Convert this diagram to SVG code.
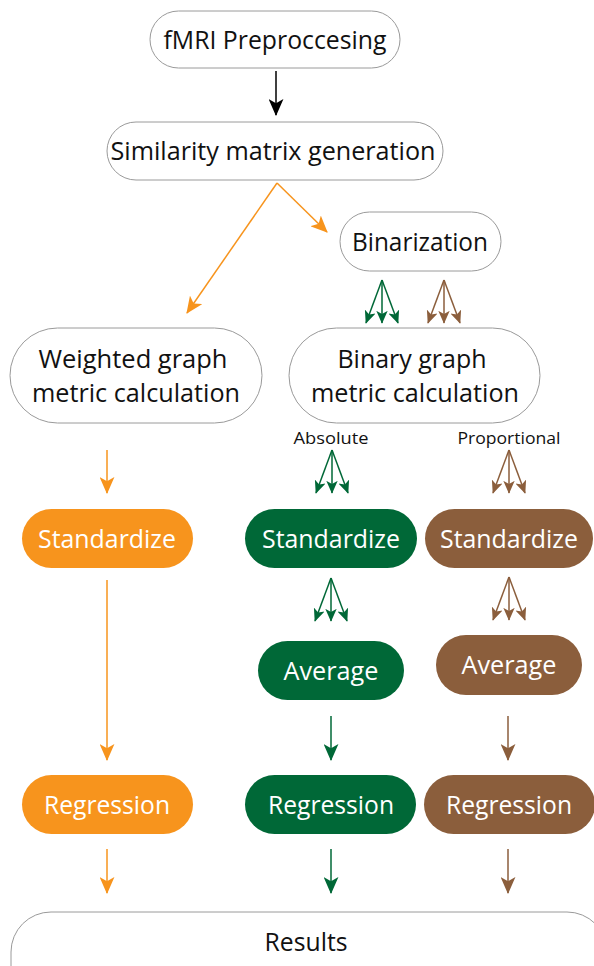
<svg xmlns="http://www.w3.org/2000/svg" xmlns:xlink="http://www.w3.org/1999/xlink" width="594" height="966" viewBox="0 0 594 966">
<style>
.wn{fill:#fff;stroke:#9a9a9a;stroke-width:1}
.t{font-family:"Open Sans","Liberation Sans",sans-serif;font-size:26px;text-anchor:middle;fill:#111}
.tw{font-family:"Open Sans","Liberation Sans",sans-serif;font-size:26px;text-anchor:middle;fill:#fff}
.ts{font-family:"Open Sans","Liberation Sans",sans-serif;font-size:17px;text-anchor:middle;fill:#111}
.or{fill:#F7941D}
.gr{fill:#006837}
.br{fill:#8B5E3C}
.lk{stroke:#000;stroke-width:1.5;fill:none}
.lo{stroke:#F7941D;stroke-width:1.5;fill:none}
.lg{stroke:#006837;stroke-width:1.5;fill:none}
.lb{stroke:#8B5E3C;stroke-width:1.5;fill:none}
</style>
<defs>
<marker id="hk" markerUnits="userSpaceOnUse" viewBox="0 0 16 14" refX="15" refY="7" markerWidth="17" markerHeight="15" orient="auto"><path d="M0,0 L16,7 L0,14 L4,7 z" fill="#000"/></marker>
<marker id="ho" markerUnits="userSpaceOnUse" viewBox="0 0 16 14" refX="15" refY="7" markerWidth="17" markerHeight="15" orient="auto"><path d="M0,0 L16,7 L0,14 L4,7 z" fill="#F7941D"/></marker>
<marker id="hg" markerUnits="userSpaceOnUse" viewBox="0 0 16 14" refX="15" refY="7" markerWidth="17" markerHeight="15" orient="auto"><path d="M0,0 L16,7 L0,14 L4,7 z" fill="#006837"/></marker>
<marker id="hb" markerUnits="userSpaceOnUse" viewBox="0 0 16 14" refX="15" refY="7" markerWidth="17" markerHeight="15" orient="auto"><path d="M0,0 L16,7 L0,14 L4,7 z" fill="#8B5E3C"/></marker>
<marker id="sg" markerUnits="userSpaceOnUse" viewBox="0 0 16 14" refX="15" refY="7" markerWidth="13" markerHeight="12" orient="auto"><path d="M0,0 L16,7 L0,14 L4,7 z" fill="#006837"/></marker>
<marker id="sb" markerUnits="userSpaceOnUse" viewBox="0 0 16 14" refX="15" refY="7" markerWidth="13" markerHeight="12" orient="auto"><path d="M0,0 L16,7 L0,14 L4,7 z" fill="#8B5E3C"/></marker>
<g id="trig">
<line x1="0" y1="0" x2="-16" y2="43" class="lg" marker-end="url(#sg)"/>
<line x1="0" y1="0" x2="0" y2="43" class="lg" marker-end="url(#sg)"/>
<line x1="0" y1="0" x2="16" y2="43" class="lg" marker-end="url(#sg)"/>
</g>
<g id="trib">
<line x1="0" y1="0" x2="-16" y2="43" class="lb" marker-end="url(#sb)"/>
<line x1="0" y1="0" x2="0" y2="43" class="lb" marker-end="url(#sb)"/>
<line x1="0" y1="0" x2="16" y2="43" class="lb" marker-end="url(#sb)"/>
</g>
</defs>
<rect width="594" height="966" fill="#fff"/>

<g id="connectors">
<line x1="276" y1="71" x2="276" y2="115" class="lk" marker-end="url(#hk)"/>
<line x1="277" y1="183" x2="187" y2="313" class="lo" marker-end="url(#ho)"/>
<line x1="277" y1="183" x2="327" y2="232" class="lo" marker-end="url(#ho)"/>
<use xlink:href="#trig" x="382" y="280"/>
<use xlink:href="#trib" x="444" y="280"/>
<use xlink:href="#trig" x="332" y="450"/>
<use xlink:href="#trib" x="509" y="450"/>
<line x1="107" y1="450" x2="107" y2="493" class="lo" marker-end="url(#ho)"/>
<use xlink:href="#trig" x="331" y="578"/>
<use xlink:href="#trib" x="509" y="577"/>
<line x1="107" y1="580" x2="107" y2="760" class="lo" marker-end="url(#ho)"/>
<line x1="331" y1="716" x2="331" y2="760" class="lg" marker-end="url(#hg)"/>
<line x1="508" y1="716" x2="508" y2="760" class="lb" marker-end="url(#hb)"/>
<line x1="107" y1="849" x2="107" y2="893" class="lo" marker-end="url(#ho)"/>
<line x1="331" y1="849" x2="331" y2="893" class="lg" marker-end="url(#hg)"/>
<line x1="508" y1="849" x2="508" y2="893" class="lb" marker-end="url(#hb)"/>
</g>

<g id="fmri"><rect class="wn" x="150" y="11" width="250" height="57" rx="28.5"/><text class="t" x="275" y="49" textLength="223" lengthAdjust="spacingAndGlyphs">fMRI Preproccesing</text></g>
<g id="similarity"><rect class="wn" x="107" y="122" width="336" height="58" rx="29"/><text class="t" x="273" y="160" textLength="325" lengthAdjust="spacingAndGlyphs">Similarity matrix generation</text></g>
<g id="binarization"><rect class="wn" x="340" y="212" width="161" height="59" rx="29.5"/><text class="t" x="420" y="251" textLength="136" lengthAdjust="spacingAndGlyphs">Binarization</text></g>
<g id="weighted"><rect class="wn" x="10" y="328" width="252" height="95" rx="47.5"/><text class="t" x="133" y="368" textLength="189" lengthAdjust="spacingAndGlyphs">Weighted graph</text><text class="t" x="136" y="402" textLength="208" lengthAdjust="spacingAndGlyphs">metric calculation</text></g>
<g id="binary"><rect class="wn" x="289" y="328" width="251" height="95" rx="47.5"/><text class="t" x="412" y="368" textLength="149" lengthAdjust="spacingAndGlyphs">Binary graph</text><text class="t" x="415" y="402" textLength="208" lengthAdjust="spacingAndGlyphs">metric calculation</text></g>
<g id="absolute"><text class="ts" x="331" y="444" textLength="75" lengthAdjust="spacingAndGlyphs">Absolute</text></g>
<g id="proportional"><text class="ts" x="509" y="444" textLength="103" lengthAdjust="spacingAndGlyphs">Proportional</text></g>
<g id="std-o"><rect class="or" x="22" y="509" width="171" height="59" rx="29.5"/><text class="tw" x="107" y="548" textLength="138" lengthAdjust="spacingAndGlyphs">Standardize</text></g>
<g id="std-g"><rect class="gr" x="245" y="509" width="172" height="59" rx="29.5"/><text class="tw" x="331" y="548" textLength="138" lengthAdjust="spacingAndGlyphs">Standardize</text></g>
<g id="std-b"><rect class="br" x="425" y="509" width="168" height="59" rx="29.5"/><text class="tw" x="509" y="548" textLength="138" lengthAdjust="spacingAndGlyphs">Standardize</text></g>
<g id="avg-g"><rect class="gr" x="258" y="641" width="146" height="59" rx="29.5"/><text class="tw" x="331" y="680" textLength="95" lengthAdjust="spacingAndGlyphs">Average</text></g>
<g id="avg-b"><rect class="br" x="436" y="635" width="146" height="60" rx="30"/><text class="tw" x="509" y="674" textLength="95" lengthAdjust="spacingAndGlyphs">Average</text></g>
<g id="reg-o"><rect class="or" x="22" y="775" width="171" height="59" rx="29.5"/><text class="tw" x="107" y="814" textLength="126" lengthAdjust="spacingAndGlyphs">Regression</text></g>
<g id="reg-g"><rect class="gr" x="245" y="775" width="171" height="59" rx="29.5"/><text class="tw" x="331" y="814" textLength="126" lengthAdjust="spacingAndGlyphs">Regression</text></g>
<g id="reg-b"><rect class="br" x="424" y="775" width="171" height="59" rx="29.5"/><text class="tw" x="509" y="814" textLength="126" lengthAdjust="spacingAndGlyphs">Regression</text></g>
<g id="results"><rect class="wn" x="11" y="912" width="596" height="100" rx="40"/><text class="t" x="306" y="951" textLength="83" lengthAdjust="spacingAndGlyphs">Results</text></g>
</svg>
